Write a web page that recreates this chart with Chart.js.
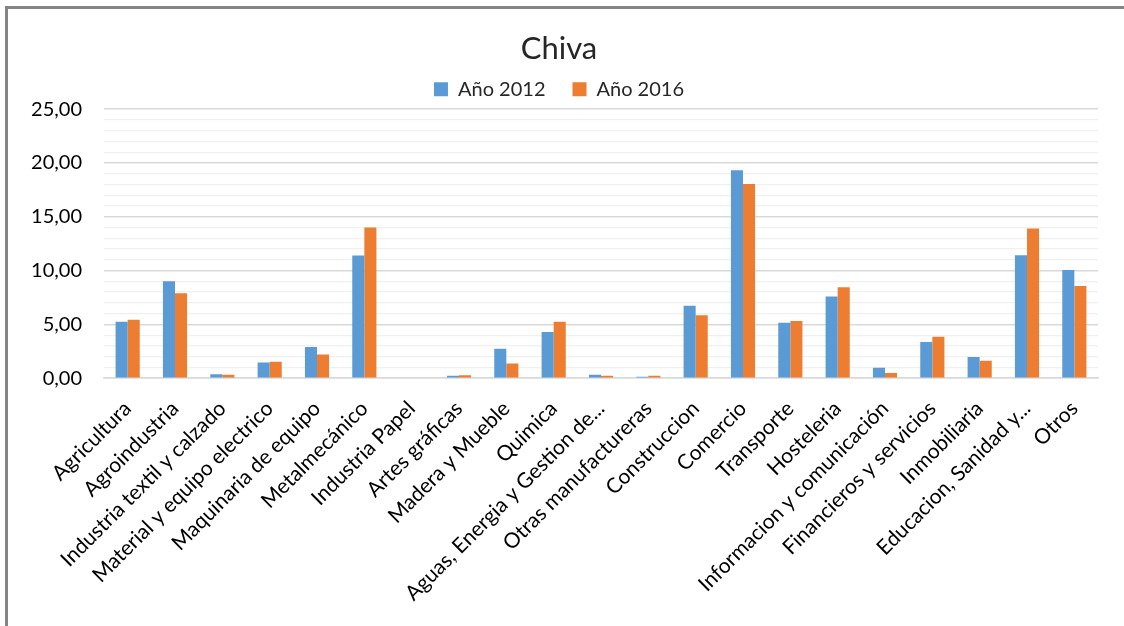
<!DOCTYPE html>
<html>
<head>
<meta charset="utf-8">
<script src="https://cdn.jsdelivr.net/npm/chart.js@4/dist/chart.umd.min.js"></script>
<style>
    body { margin: 0; background: #fff; }
    #frame {
        position: absolute; left: 5px; top: 6px; width: 1119px; height: 620px;
        border-left: 3px solid #858585; border-top: 3px solid #858585;
    }
    #chiva { position: absolute; left: 0; top: 0; }
</style>
</head>
<body>
<div id="frame"></div>
<canvas id="chiva" width="1124" height="626"></canvas>
<script>
var categorias = [
    'Agricultura', 'Agroindustria', 'Industria textil y calzado', 'Material y equipo electrico',
    'Maquinaria de equipo', 'Metalmecánico', 'Industria Papel', 'Artes gráficas', 'Madera y Mueble',
    'Quimica', 'Aguas, Energia y Gestion de...', 'Otras manufactureras', 'Construccion', 'Comercio',
    'Transporte', 'Hosteleria', 'Informacion y comunicación', 'Financieros y servicios',
    'Inmobiliaria', 'Educacion, Sanidad y...', 'Otros'
];
var anio2012 = [5.25, 9.0, 0.37, 1.46, 2.89, 11.4, 0, 0.22, 2.73, 4.29, 0.31, 0.12, 6.74, 19.32, 5.16, 7.58, 0.96, 3.35, 1.96, 11.43, 10.06];
var anio2016 = [5.43, 7.89, 0.31, 1.52, 2.2, 14.0, 0, 0.28, 1.37, 5.25, 0.22, 0.22, 5.84, 18.04, 5.31, 8.45, 0.47, 3.85, 1.61, 13.91, 8.57];
var etiquetasY = [0, 5, 10, 15, 20, 25];

var fuente = "Lato, 'Open Sans', sans-serif";
Chart.defaults.font.family = fuente;
Chart.defaults.color = '#262626';

var ctx = document.getElementById('chiva').getContext('2d');
var chart = new Chart(ctx, {
    type: 'bar',
    data: {
        labels: categorias,
        datasets: [{
            label: 'Año 2012',
            data: anio2012,
            backgroundColor: '#5B9BD5'
        }, {
            label: 'Año 2016',
            data: anio2016,
            backgroundColor: '#ED7D31'
        }]
    },
    options: {
        responsive: false,
        animation: false,
        categoryPercentage: 0.51,
        barPercentage: 1,
        layout: { padding: { left: 20, right: 26, top: 14, bottom: 10 } },
        plugins: {
            title: {
                display: true,
                text: 'Chiva',
                font: { size: 31, weight: 'normal' },
                color: '#262626',
                padding: { top: 16, bottom: 5 }
            },
            legend: {
                labels: {
                    boxWidth: 14, boxHeight: 14, padding: 7,
                    font: { size: 20 },
                    generateLabels: function(c) {
                        var items = Chart.defaults.plugins.legend.labels.generateLabels(c);
                        // separa un poco las dos entradas, como en el original
                        items[0].text = items[0].text + '\u2002\u2002';
                        return items;
                    }
                }
            },
            tooltip: { enabled: false }
        },
        scales: {
            x: {
                grid: { display: false },
                border: { color: '#d9d9d9', width: 1.5 },
                ticks: {
                    minRotation: 45, maxRotation: 45, autoSkip: false, padding: 10,
                    font: { size: 21 }, color: '#000'
                }
            },
            y: {
                min: 0, max: 25,
                border: { display: false },
                grid: {
                    drawTicks: false,
                    color: function(c) { return etiquetasY.indexOf(c.tick.value) >= 0 ? '#d9d9d9' : '#f0f0f0'; },
                    lineWidth: function(c) { return etiquetasY.indexOf(c.tick.value) >= 0 ? 1.5 : 1.2; }
                },
                afterFit: function(axis) { axis.width = 84; },
                ticks: {
                    stepSize: 1, autoSkip: false, padding: 22,
                    font: { size: 20 }, color: '#000',
                    callback: function(v) {
                        return etiquetasY.indexOf(v) >= 0 ? v.toFixed(2).replace('.', ',') : '';
                    }
                }
            }
        }
    }
});
</script>
</body>
</html>
